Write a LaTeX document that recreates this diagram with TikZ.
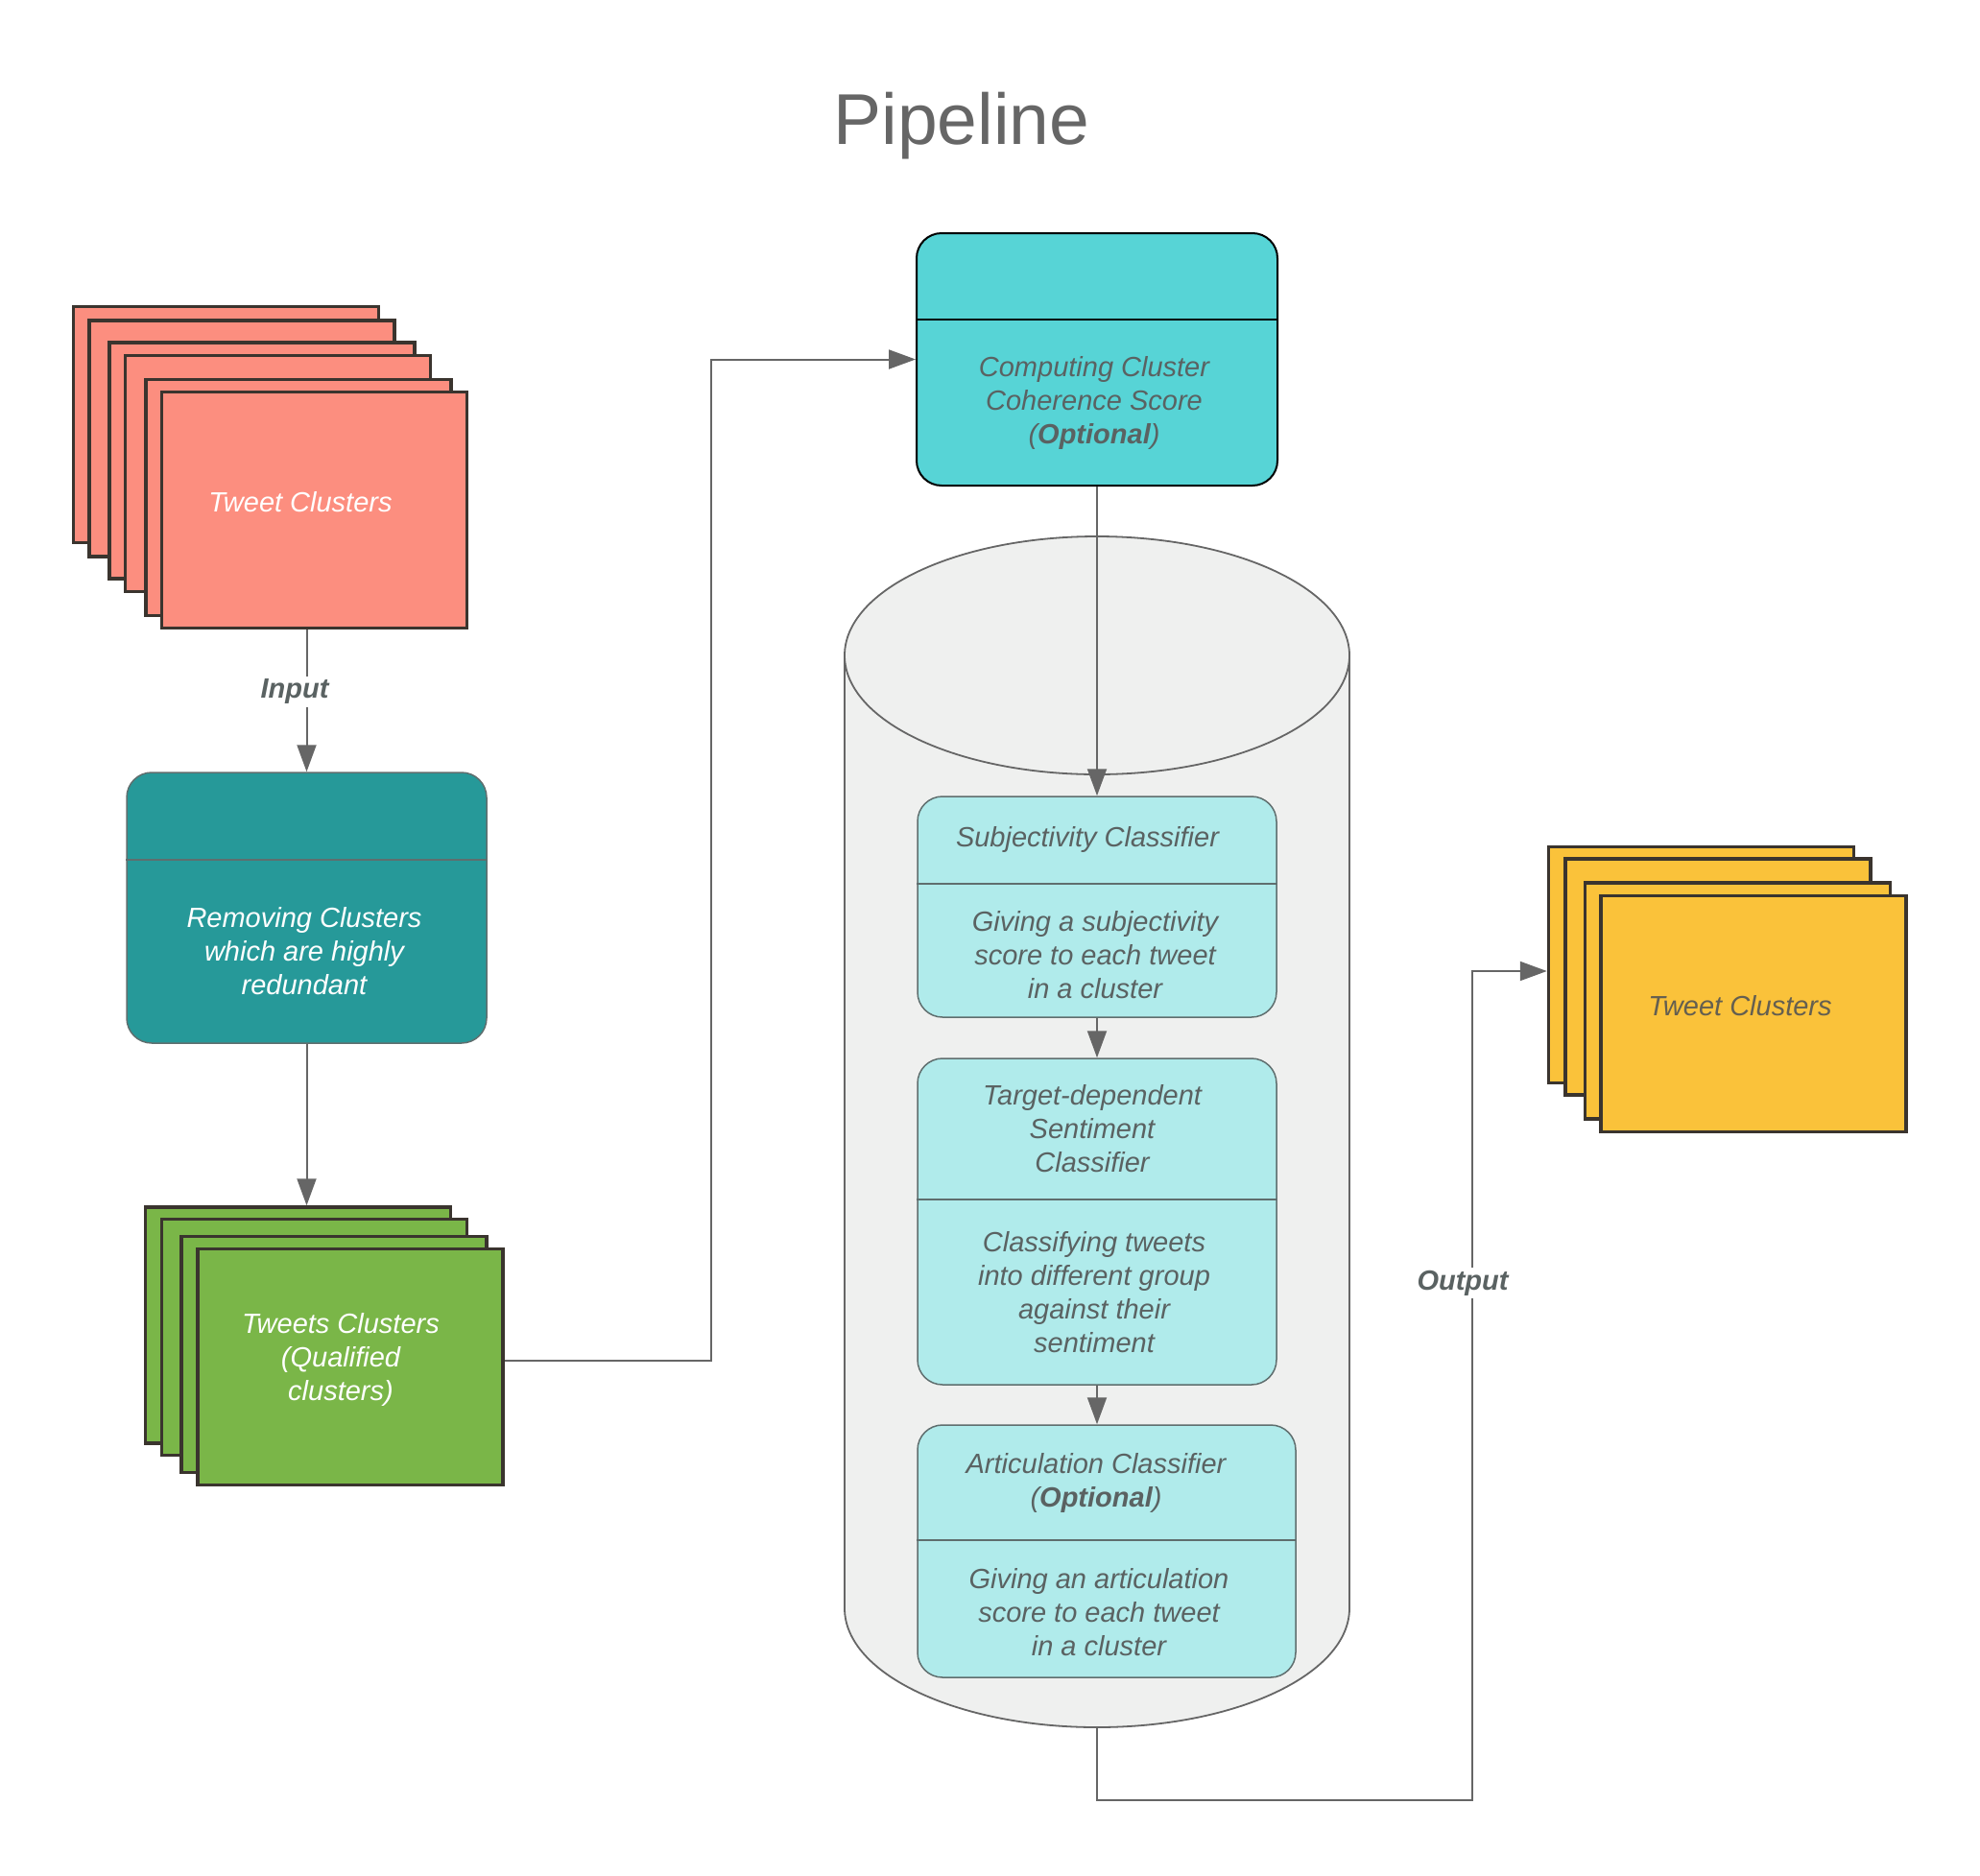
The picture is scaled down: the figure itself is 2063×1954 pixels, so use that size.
\documentclass[tikz,border=0pt]{standalone}
\usepackage{fontspec}
\setmainfont{Liberation Sans}
\usetikzlibrary{arrows.meta,calc}
\definecolor{salmon}{RGB}{252,142,127}
\definecolor{grn}{RGB}{122,182,72}
\definecolor{yel}{RGB}{250,194,58}
\definecolor{dteal}{RGB}{38,153,153}
\definecolor{cyanbox}{RGB}{87,212,214}
\definecolor{lcyan}{RGB}{176,235,235}
\definecolor{sheetline}{RGB}{58,52,46}
\definecolor{cylfill}{RGB}{239,240,239}
\definecolor{cylline}{RGB}{102,102,102}
\definecolor{txtgray}{RGB}{90,98,98}
\definecolor{arrgray}{RGB}{102,102,102}
\definecolor{boxline}{RGB}{95,110,110}
\begin{document}
\begin{tikzpicture}[x=1pt,y=-1pt,
  sheet/.style={draw=sheetline, line width=3.5pt, minimum width=318pt, minimum height=246pt, inner sep=0pt},
  redsheet/.style={sheet, fill=salmon},
  greensheet/.style={sheet, fill=grn},
  yellowsheet/.style={sheet, fill=yel},
  txt/.style={font=\fontsize{29}{35}\selectfont\itshape, align=center, text=txtgray, inner sep=0pt},
  wtxt/.style={txt, text=white},
  lightbox/.style={draw=boxline, line width=1.5pt, fill=lcyan, rounded corners=26pt, inner sep=0pt},
  div/.style={draw=boxline, line width=1.5pt},
  arr/.style={draw=arrgray, line width=2pt, -{Triangle[length=28pt,width=20pt]}},
  lbl/.style={font=\fontsize{29}{35}\selectfont\itshape\bfseries, text=txtgray, fill=white, inner sep=3pt}
]
\useasboundingbox (0,0) rectangle (2063,1954);

% Title
\node[font=\fontsize{75}{82}\selectfont, text=arrgray] (title) at (1002,131) {Pipeline};

% Red stack
\node[redsheet] (r1) at (235.5,442.5) {};
\node[redsheet] (r2) at (252,457) {};
\node[redsheet] (r3) at (273,480) {};
\node[redsheet] (r4) at (289.5,493.5) {};
\node[redsheet] (r5) at (311,518.5) {};
\node[redsheet] (r6) at (327.5,531.5) {};
\node[wtxt] (rtxt) at (313,523) {Tweet Clusters};

% Dark teal box
\node[draw=boxline, line width=1.5pt, fill=dteal, rounded corners=26pt, minimum width=375pt, minimum height=282pt, inner sep=0pt] (rem) at (319.5,946) {};
\draw[div] (rem.west |- 0,896) -- (rem.east |- 0,896);
\node[wtxt] (remtxt) at (317,991) {Removing Clusters\\ which are highly\\ redundant};

% Green stack
\node[greensheet] (g1) at (310.5,1381) {};
\node[greensheet] (g2) at (327.5,1393.5) {};
\node[greensheet] (g3) at (348,1411.5) {};
\node[greensheet] (g4) at (365,1424.5) {};
\node[wtxt] (gtxt) at (355,1417) {Tweets Clusters\\ (Qualified\\ clusters)};

% Cyan box
\node[draw=black, line width=2pt, fill=cyanbox, rounded corners=26pt, minimum width=376pt, minimum height=263pt, inner sep=0pt] (cc) at (1143,374.5) {};
\draw[draw=black, line width=1.2pt] (cc.west |- 0,333) -- (cc.east |- 0,333);
\node[txt] (cctxt) at (1140,420) {Computing Cluster\\ Coherence Score\\ (\textbf{Optional})};

% Cylinder
\fill[cylfill] (880,683) -- (880,1676) arc[start angle=180, end angle=0, x radius=263, y radius=124] -- (1406,683) arc[start angle=0, end angle=-180, x radius=263, y radius=124] -- cycle;
\draw[cylline, line width=1.8pt] (1143,683) ellipse[x radius=263, y radius=124];
\draw[cylline, line width=1.8pt] (880,683) -- (880,1676) arc[start angle=180, end angle=0, x radius=263, y radius=124] -- (1406,683);
\coordinate (cylbot) at (1143,1800);

% Subjectivity box
\node[lightbox, minimum width=374pt, minimum height=230pt] (subj) at (1143,945) {};
\draw[div] (subj.west |- 0,921) -- (subj.east |- 0,921);
\node[txt] (subjt) at (1133,875) {Subjectivity Classifier};
\node[txt] (subjb) at (1141,995) {Giving a subjectivity\\ score to each tweet\\ in a cluster};

% Target box
\node[lightbox, minimum width=374pt, minimum height=340pt] (targ) at (1143,1273) {};
\draw[div] (targ.west |- 0,1250) -- (targ.east |- 0,1250);
\node[txt] (targt) at (1138,1176) {Target-dependent\\ Sentiment\\ Classifier};
\node[txt] (targb) at (1140,1347) {Classifying tweets\\ into different group\\ against their\\ sentiment};

% Articulation box
\node[lightbox, minimum width=394pt, minimum height=263pt] (art) at (1153,1616.5) {};
\draw[div] (art.west |- 0,1605) -- (art.east |- 0,1605);
\node[txt] (artt) at (1142,1545) {Articulation Classifier\\ (\textbf{Optional})};
\node[txt] (artb) at (1145,1680) {Giving an articulation\\ score to each tweet\\ in a cluster};

% Yellow stack
\node[yellowsheet] (y1) at (1772.5,1005.5) {};
\node[yellowsheet] (y2) at (1790,1018) {};
\node[yellowsheet] (y3) at (1810.5,1043) {};
\node[yellowsheet] (y4) at (1827,1056.5) {};
\node[txt, text={rgb,255:red,100;green,95;blue,80}] (ytxt) at (1813,1048) {Tweet Clusters};

% Connectors
\draw[arr] (rem.north |- r6.south) -- (rem.north);
\draw[arr] (rem.south) -- (rem.south |- g1.north);
\draw[arr] ([yshift=7pt]g4.east) -- ([xshift=215pt,yshift=7pt]g4.east) |- (cc.west);
\draw[arr] (cc.south) -- (cc.south |- subj.north);
\draw[arr] (subj.south) -- (targ.north);
\draw[arr] (targ.south) -- (targ.south |- art.north);
\coordinate (obend) at (1534,1876);
\draw[arr] (cylbot) |- (obend) |- ([yshift=-6.5pt]y1.west);

% Labels
\node[lbl] (inl) at (307,721) {Input};
\node[lbl] (outl) at (1524,1337) {Output};
\end{tikzpicture}
\end{document}
